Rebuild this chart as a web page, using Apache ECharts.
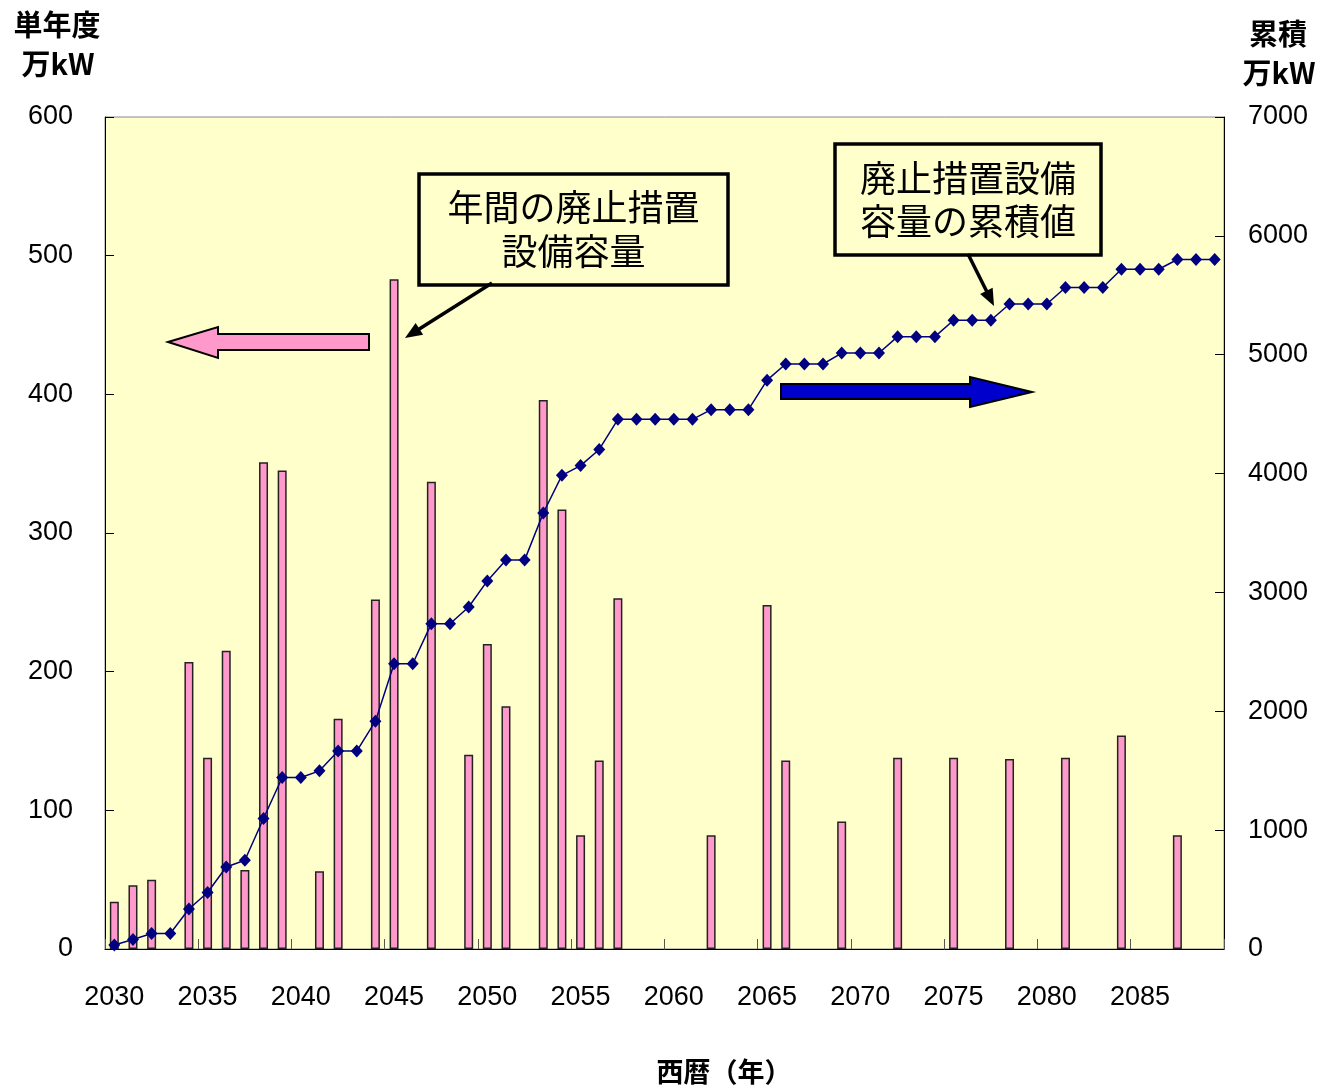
<!DOCTYPE html>
<html>
<head>
<meta charset="utf-8">
<script src="https://cdn.jsdelivr.net/npm/echarts@6/dist/echarts.min.js"></script>
<style>
  html, body { margin: 0; padding: 0; background: #ffffff; }
  #chart { width: 1321px; height: 1089px; }
</style>
</head>
<body>
<div id="chart"></div>
<script>
// Fiscal years on the category axis
const years = [
  '2030','2031','2032','2033','2034','2035','2036','2037','2038','2039',
  '2040','2041','2042','2043','2044','2045','2046','2047','2048','2049',
  '2050','2051','2052','2053','2054','2055','2056','2057','2058','2059',
  '2060','2061','2062','2063','2064','2065','2066','2067','2068','2069',
  '2070','2071','2072','2073','2074','2075','2076','2077','2078','2079',
  '2080','2081','2082','2083','2084','2085','2086','2087','2088','2089'
];

// Capacity decommissioned in each year (万kW); null = none that year
const annualCapacity = [
  34, 46, 50, null, 207, 138, 215, 57, 351, 345,
  null, 56, 166, null, 252, 483, null, 337, null, 140,
  220, 175, null, 396, 317, 82, 136, 253, null, null,
  null, null, 82, null, null, 248, 136, null, null, 92,
  null, null, 138, null, null, 138, null, null, 137, null,
  null, 138, null, null, 154, null, null, 82, null, null
];

// Running total of decommissioned capacity (万kW)
const cumulativeCapacity = [
  34, 80, 130, 130, 337, 475, 690, 747, 1098, 1443,
  1443, 1499, 1665, 1665, 1917, 2400, 2400, 2737, 2737, 2877,
  3097, 3272, 3272, 3668, 3985, 4067, 4203, 4456, 4456, 4456,
  4456, 4456, 4538, 4538, 4538, 4786, 4922, 4922, 4922, 5014,
  5014, 5014, 5152, 5152, 5152, 5290, 5290, 5290, 5427, 5427,
  5427, 5565, 5565, 5565, 5719, 5719, 5719, 5801, 5801, 5801
];

// Axis tick settings
const leftTicks = { min: 0, max: 600, interval: 100 };
const rightTicks = { min: 0, max: 7000, interval: 1000 };

const chart = echarts.init(document.getElementById('chart'), null, { renderer: 'canvas' });

const numFont = '"Liberation Sans", Arial, sans-serif';
const cjkFont = '"Noto Sans CJK JP", "Noto Sans CJK SC", sans-serif';

// Straight callout line with a filled arrowhead at its end
function calloutArrow(x1, y1, x2, y2) {
  const dx = x2 - x1, dy = y2 - y1;
  const len = Math.sqrt(dx * dx + dy * dy);
  const ux = dx / len, uy = dy / len;
  const headLen = 17, headHalf = 7;
  const bx = x2 - ux * headLen, by = y2 - uy * headLen;
  const nx = -uy, ny = ux;
  return [
    {
      type: 'line', z: 100,
      shape: { x1: x1, y1: y1, x2: bx + ux * 2, y2: by + uy * 2 },
      style: { stroke: '#000000', lineWidth: 3.5 }
    },
    {
      type: 'polygon', z: 100,
      shape: { points: [[x2, y2], [bx + nx * headHalf, by + ny * headHalf], [bx - nx * headHalf, by - ny * headHalf]] },
      style: { fill: '#000000' }
    }
  ];
}

function calloutBox(x, y, w, h, lines, lineGap) {
  const cx = x + w / 2;
  const cy = y + h / 2;
  const els = [{
    type: 'rect', z: 100,
    shape: { x: x, y: y, width: w, height: h },
    style: { fill: '#FFFFCC', stroke: '#000000', lineWidth: 3.5 }
  }];
  lines.forEach(function (t, i) {
    els.push({
      type: 'text', z: 101,
      x: cx, y: cy + (i - (lines.length - 1) / 2) * lineGap,
      style: {
        text: t, fill: '#000000',
        font: 'normal 36px ' + cjkFont,
        textAlign: 'center', textVerticalAlign: 'middle'
      }
    });
  });
  return els;
}

function axisTitle(x, y, text) {
  return {
    type: 'text', z: 100, x: x, y: y,
    style: {
      text: text, fill: '#000000',
      font: 'bold 29px ' + cjkFont,
      textAlign: 'center', textVerticalAlign: 'middle'
    }
  };
}

const graphics = [].concat(
  [
    axisTitle(57, 25, '単年度'),
    axisTitle(58, 64, '万kW'),
    axisTitle(1278, 34, '累積'),
    axisTitle(1279, 73, '万kW'),
    {
      type: 'text', z: 100, x: 724, y: 1072,
      style: {
        text: '西暦（年）', fill: '#000000',
        font: 'bold 27px ' + cjkFont,
        textAlign: 'center', textVerticalAlign: 'middle'
      }
    },
    // Block arrow pointing to the left-hand (annual) axis
    {
      type: 'polygon', z: 90,
      shape: { points: [[168, 342], [218, 327], [218, 334], [369, 334], [369, 350], [218, 350], [218, 358]] },
      style: { fill: '#FF99CC', stroke: '#000000', lineWidth: 2 }
    },
    // Block arrow pointing to the right-hand (cumulative) axis
    {
      type: 'polygon', z: 90,
      shape: { points: [[781, 384], [970, 384], [970, 377], [1032, 392], [970, 407], [970, 399], [781, 399]] },
      style: { fill: '#0000CC', stroke: '#000000', lineWidth: 2 }
    }
  ],
  calloutBox(419, 174, 309, 111, ['年間の廃止措置', '設備容量'], 44),
  calloutArrow(492, 283, 405, 338),
  calloutBox(835, 144, 266, 111, ['廃止措置設備', '容量の累積値'], 43),
  calloutArrow(968, 254, 994, 306)
);

const option = {
  backgroundColor: '#ffffff',
  animation: false,
  grid: {
    left: 105, right: 97, top: 117, bottom: 140,
    show: true, backgroundColor: '#FFFFCC',
    borderColor: '#888888', borderWidth: 1
  },
  xAxis: {
    type: 'category',
    data: years,
    boundaryGap: true,
    axisLine: { lineStyle: { color: '#000000', width: 1 } },
    axisTick: { show: true, inside: true, length: 10, interval: 4, lineStyle: { color: '#555555', width: 1 } },
    axisLabel: { interval: 4, margin: 35, color: '#000000', fontSize: 27, fontFamily: numFont },
    splitLine: { show: false }
  },
  yAxis: [
    {
      type: 'value', position: 'left',
      min: leftTicks.min, max: leftTicks.max, interval: leftTicks.interval,
      axisLine: { show: true, lineStyle: { color: '#000000', width: 1 } },
      axisTick: { show: true, inside: true, length: 9, lineStyle: { color: '#000000' } },
      axisLabel: { margin: 32, color: '#000000', fontSize: 27, fontFamily: numFont, padding: [6, 0, 0, 0] },
      splitLine: { show: false }
    },
    {
      type: 'value', position: 'right',
      min: rightTicks.min, max: rightTicks.max, interval: rightTicks.interval,
      axisLine: { show: true, lineStyle: { color: '#000000', width: 1 } },
      axisTick: { show: true, inside: true, length: 9, lineStyle: { color: '#000000' } },
      axisLabel: {
        margin: 24, color: '#000000', fontSize: 27, fontFamily: numFont, padding: [6, 0, 0, 0],
        formatter: function (v) { return String(v); }
      },
      splitLine: { show: false }
    }
  ],
  series: [
    {
      name: '年間の廃止措置設備容量',
      type: 'bar',
      yAxisIndex: 0,
      data: annualCapacity,
      barWidth: 9,
      itemStyle: { color: '#FF99CC', borderColor: '#222222', borderWidth: 1.5 },
      z: 2
    },
    {
      name: '廃止措置設備容量の累積値',
      type: 'line',
      yAxisIndex: 1,
      data: cumulativeCapacity,
      symbol: 'diamond',
      symbolSize: [12, 13],
      showAllSymbol: true,
      lineStyle: { color: '#000080', width: 1.5 },
      itemStyle: { color: '#000080' },
      z: 3
    }
  ],
  graphic: graphics
};

chart.setOption(option);
</script>
</body>
</html>
